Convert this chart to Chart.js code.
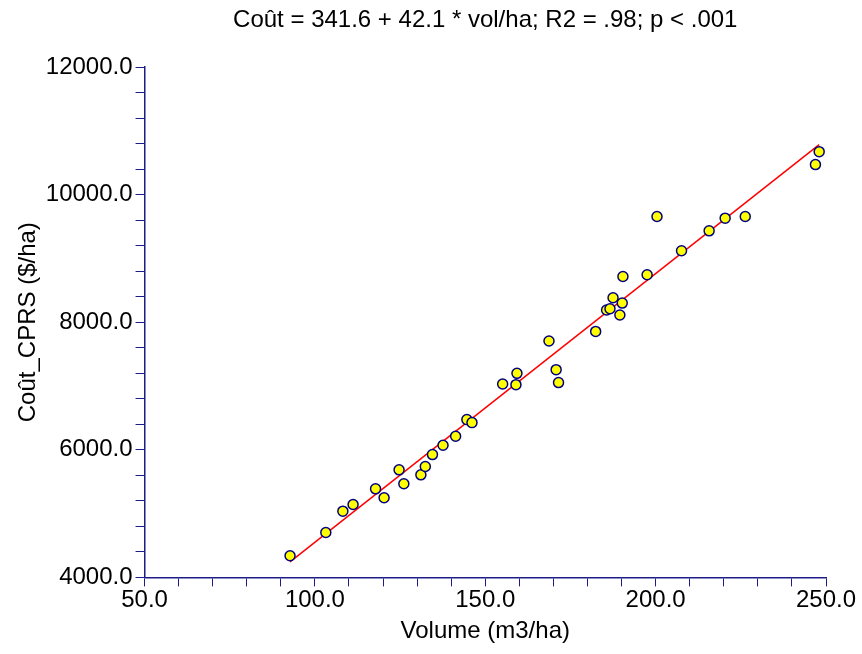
<!DOCTYPE html>
<html>
<head>
<meta charset="utf-8">
<script src="https://cdn.jsdelivr.net/npm/chart.js@4"></script>
<style>
  html, body { margin: 0; padding: 0; background: #fff; }
  #wrap { width: 862px; height: 654px; }
</style>
</head>
<body>
<div id="wrap"><canvas id="scatterChart"></canvas></div>
<script>
// Volume (m3/ha) per site
const volume = [92.7, 103.2, 108.2, 111.2, 117.8, 120.3, 124.7, 126.1, 131.1, 132.4,
  134.5, 137.6, 141.3, 144.6, 146.1, 155.1, 159.0, 159.3, 168.7, 170.8,
  171.5, 182.4, 185.6, 186.6, 187.5, 190.2, 189.5, 190.4, 197.5, 200.4,
  207.6, 215.7, 220.4, 226.3, 246.9, 248.0];
// Coût_CPRS ($/ha) per site
const cost = [4340, 4704, 5038, 5143, 5388, 5248, 5686, 5467, 5608, 5738,
  5925, 6071, 6212, 6473, 6426, 7032, 7021, 7198, 7705, 7256,
  7053, 7856, 8191, 8211, 8383, 8300, 8112, 8717, 8743, 9656,
  9119, 9432, 9631, 9656, 10470, 10673];
// fitted line end points (Coût = 341.6 + 42.1 * vol/ha)
const fitX = [92.7, 248.0];
const fitY = [4244, 10782];

const titleText = 'Coût = 341.6 + 42.1 * vol/ha; R2 = .98; p < .001';
const navy = '#1c1c8a';
const font = 'Arial, "Liberation Sans", sans-serif';
const fontSize = 24;

// title centred over the plot area, like the original
const plotTitle = {
  id: 'plotTitle',
  afterDraw(chart) {
    const { ctx, chartArea } = chart;
    ctx.save();
    ctx.font = fontSize + 'px ' + font;
    ctx.fillStyle = '#000';
    ctx.textAlign = 'center';
    ctx.textBaseline = 'middle';
    ctx.fillText(titleText, (chartArea.left + chartArea.right) / 2, 20);
    ctx.restore();
  }
};

const fmt = v => Number(v).toFixed(1);

new Chart(document.getElementById('scatterChart'), {
  type: 'scatter',
  data: {
    datasets: [
      {
        type: 'line',
        data: fitX.map((x, i) => ({ x: x, y: fitY[i] })),
        borderColor: '#ff0000',
        borderWidth: 1.5,
        pointRadius: 0,
        fill: false,
        order: 2
      },
      {
        data: volume.map((x, i) => ({ x: x, y: cost[i] })),
        backgroundColor: '#ffff00',
        borderColor: '#000080',
        borderWidth: 1.5,
        pointRadius: 5,
        order: 1
      }
    ]
  },
  options: {
    responsive: true,
    maintainAspectRatio: false,
    animation: false,
    layout: { padding: { top: 67, right: 36, left: 14, bottom: 8 } },
    plugins: {
      legend: { display: false },
      tooltip: { enabled: false }
    },
    scales: {
      x: {
        type: 'linear',
        min: 50,
        max: 250,
        border: { color: navy, width: 1.5 },
        grid: { drawOnChartArea: false, color: navy, tickLength: 9, lineWidth: 1 },
        ticks: {
          stepSize: 10,
          autoSkip: false,
          maxRotation: 0,
          color: '#000',
          padding: 0,
          font: { family: font, size: fontSize },
          callback: v => (v % 50 === 0 ? fmt(v) : '')
        },
        title: {
          display: true,
          text: 'Volume (m3/ha)',
          color: '#000',
          font: { family: font, size: fontSize },
          padding: { top: 2, bottom: 0 }
        }
      },
      y: {
        type: 'linear',
        min: 4000,
        max: 12000,
        border: { color: navy, width: 1.5 },
        grid: { drawOnChartArea: false, color: navy, tickLength: 9, lineWidth: 1 },
        ticks: {
          stepSize: 400,
          autoSkip: false,
          color: '#000',
          padding: 3,
          font: { family: font, size: fontSize },
          callback: v => (v % 2000 === 0 ? fmt(v) : '')
        },
        title: {
          display: true,
          text: 'Coût_CPRS ($/ha)',
          color: '#000',
          font: { family: font, size: fontSize },
          padding: { top: 0, bottom: 0 }
        }
      }
    }
  },
  plugins: [plotTitle]
});
</script>
</body>
</html>
